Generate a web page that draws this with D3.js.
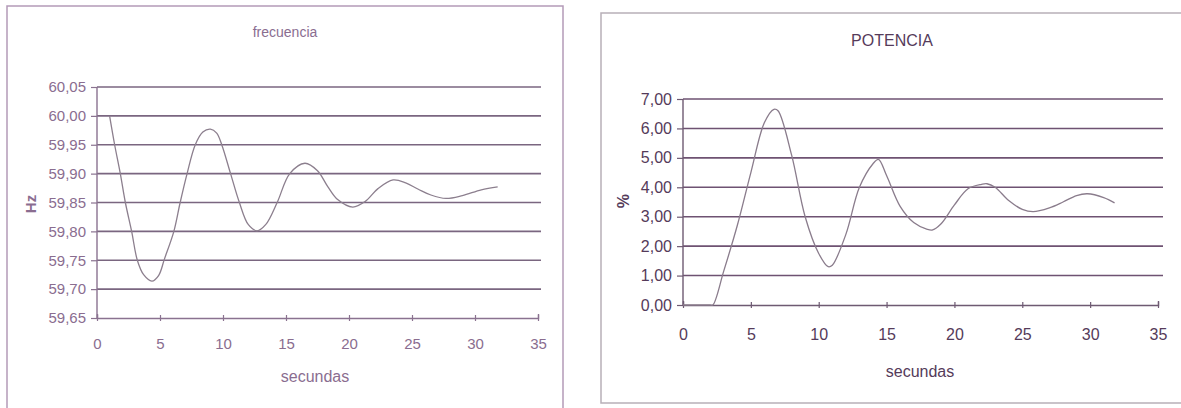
<!DOCTYPE html>
<html>
<head>
<meta charset="utf-8">
<script src="https://cdn.jsdelivr.net/npm/d3@7"></script>
<style>
  html, body { margin: 0; padding: 0; background: #ffffff; }
  svg { display: block; }
</style>
</head>
<body>
<svg id="chart" width="1181" height="408"></svg>
<script>
// Time samples (s) and values for the frequency response
const freqTime = [1, 1.4, 1.85, 2.25, 2.75, 3.2, 3.7, 4.36, 4.9, 5.35, 6.1, 6.6, 7.15, 7.8, 8.4, 9.0, 9.5, 9.9, 10.6, 11.3, 12.0, 12.7, 13.4, 14.3, 15.3, 16.5, 17.5, 18.3, 19.1, 20.3, 21.3, 22.3, 23.5, 24.5, 25.5, 26.5, 27.7, 29, 30.5, 31.8];
const freqHz   = [60.00, 59.95, 59.90, 59.85, 59.80, 59.75, 59.725, 59.714, 59.724, 59.752, 59.80, 59.85, 59.90, 59.95, 59.972, 59.977, 59.97, 59.95, 59.90, 59.85, 59.812, 59.801, 59.812, 59.85, 59.90, 59.918, 59.905, 59.878, 59.855, 59.842, 59.852, 59.874, 59.889, 59.884, 59.873, 59.863, 59.857, 59.862, 59.872, 59.877];

// Time samples (s) and values for the power response (%)
const powTime = [0, 1, 2, 2.2, 3, 4, 5, 6, 6.7, 7, 8, 9, 10, 10.7, 11, 12, 13, 14, 14.4, 15, 16, 17, 18, 18.4, 19, 20, 21, 22, 22.4, 23, 24, 25, 25.8, 27, 28, 29, 29.8, 31, 31.8];
const powPct  = [0, 0, 0, 0, 1.15, 2.7, 4.5, 6.2, 6.65, 6.6, 5.1, 3.0, 1.75, 1.3, 1.35, 2.4, 4.0, 4.8, 4.95, 4.4, 3.35, 2.8, 2.57, 2.55, 2.75, 3.4, 3.95, 4.1, 4.12, 4.0, 3.55, 3.25, 3.17, 3.3, 3.5, 3.72, 3.78, 3.65, 3.47];

const xTicks = [0, 5, 10, 15, 20, 25, 30, 35];
const freqTicks = [59.65, 59.70, 59.75, 59.80, 59.85, 59.90, 59.95, 60.00, 60.05];
const powTicks = [0, 1, 2, 3, 4, 5, 6, 7];

const comma2 = v => d3.format(".2f")(v).replace(".", ",");
const svg = d3.select("#chart");

function drawPanel(cfg) {
  const g = svg.append("g");
  // outer frame
  g.append("path")
    .attr("d", cfg.frame)
    .attr("fill", "none")
    .attr("stroke", cfg.frameColor)
    .attr("stroke-width", 1.5);

  const x = d3.scaleLinear().domain([0, 35]).range([cfg.x0, cfg.x1]);
  const y = d3.scaleLinear().domain(cfg.yDomain).range([cfg.yBottom, cfg.yTop]);

  // horizontal gridlines
  g.append("g").selectAll("line")
    .data(cfg.yTicks.slice(1))
    .join("line")
    .attr("x1", cfg.x0).attr("x2", cfg.gridEnd)
    .attr("y1", d => y(d)).attr("y2", d => y(d))
    .attr("stroke", cfg.gridColor)
    .attr("stroke-width", 1.6);

  // y axis
  const ya = g.append("g")
    .attr("transform", `translate(${cfg.x0},0)`)
    .call(d3.axisLeft(y).tickValues(cfg.yTicks).tickFormat(comma2).tickSize(6).tickPadding(5));
  // x axis
  const xa = g.append("g")
    .attr("transform", `translate(0,${cfg.yBottom})`)
    .call(d3.axisBottom(x).tickValues(xTicks).tickSize(-4).tickPadding(cfg.xPad));

  [ya, xa].forEach(a => {
    a.select(".domain").attr("stroke", cfg.axisColor).attr("stroke-width", 1.4);
    a.selectAll(".tick line").attr("stroke", cfg.axisColor).attr("stroke-width", 1.2);
    a.selectAll("text")
      .attr("fill", cfg.textColor)
      .style("font-family", cfg.font)
      .style("font-size", cfg.tickSize + "px")
      .style("font-weight", cfg.weight);
  });
  ya.select(".domain").attr("d", `M0,${cfg.yBottom}V${cfg.yTop}`);
  xa.selectAll(".tick line").attr("y1", -3).attr("y2", 3);

  // data curve
  const line = d3.line()
    .x((d, i) => x(cfg.t[i]))
    .y(d => y(d))
    .curve(d3.curveCatmullRom.alpha(0.5));
  g.append("path")
    .datum(cfg.v)
    .attr("d", line)
    .attr("fill", "none")
    .attr("stroke", cfg.lineColor)
    .attr("stroke-width", 1.3);

  // titles
  const txt = (s, px, py, size, rot) => {
    const t = g.append("text")
      .attr("x", px).attr("y", py)
      .attr("text-anchor", "middle")
      .attr("dominant-baseline", "middle")
      .attr("fill", cfg.textColor)
      .style("font-family", cfg.font)
      .style("font-size", size + "px")
      .style("font-weight", cfg.weight)
      .text(s);
    if (rot) t.attr("transform", `rotate(-90,${px},${py})`);
    return t;
  };
  txt(cfg.title, cfg.titleX, cfg.titleY, cfg.titleSize, false);
  txt(cfg.yLabel, cfg.yLabelX, cfg.yLabelY, cfg.yLabelSize, true).style("font-weight", "bold");
  txt("secundas", cfg.xLabelX, cfg.xLabelY, 16, false);
}

drawPanel({
  frame: "M7,420V6H563V420",
  frameColor: "#b49ab8",
  x0: 97, x1: 538, gridEnd: 541,
  yDomain: [59.65, 60.05], yTop: 87, yBottom: 318,
  yTicks: freqTicks, xPad: 20,
  t: freqTime, v: freqHz,
  gridColor: "#7a6680", axisColor: "#8a7290",
  textColor: "#8a6d90", lineColor: "#8c7f8e",
  font: "'Liberation Sans', Arial, sans-serif", weight: "normal", tickSize: 15,
  title: "frecuencia", titleX: 285, titleY: 33, titleSize: 14,
  yLabel: "Hz", yLabelX: 32, yLabelY: 204, yLabelSize: 15,
  xLabelX: 315, xLabelY: 378
});

drawPanel({
  frame: "M1195,13H601V403H1195",
  frameColor: "#b8b0b8",
  x0: 683, x1: 1158, gridEnd: 1163,
  yDomain: [0, 7], yTop: 99, yBottom: 305,
  yTicks: powTicks, xPad: 24,
  t: powTime, v: powPct,
  gridColor: "#6e5272", axisColor: "#6e5a72",
  textColor: "#553b5a", lineColor: "#8a7c8c",
  font: "'Liberation Sans', Arial, sans-serif", weight: "normal", tickSize: 16,
  title: "POTENCIA", titleX: 892, titleY: 42, titleSize: 16,
  yLabel: "%", yLabelX: 625, yLabelY: 201, yLabelSize: 16,
  xLabelX: 920, xLabelY: 373
});
</script>
</body>
</html>
